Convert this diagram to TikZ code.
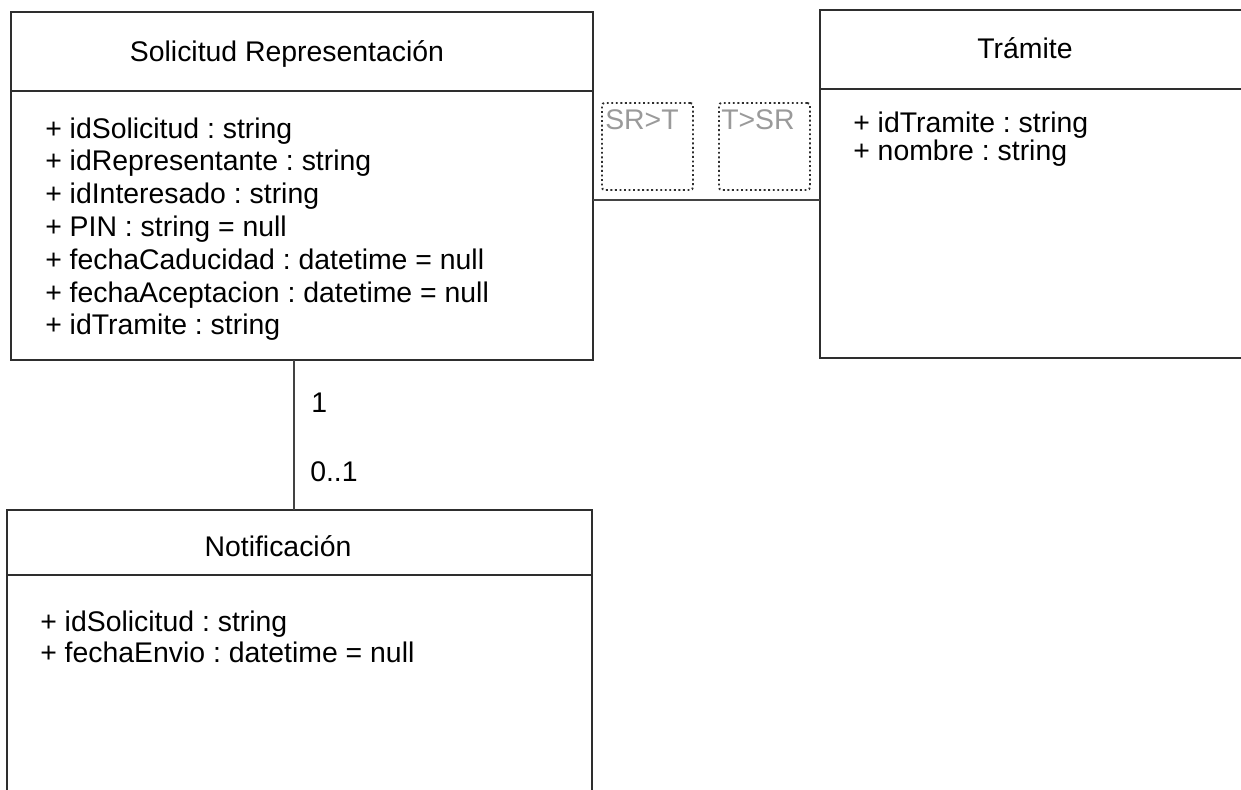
\documentclass[tikz,border=0pt]{standalone}
\usepackage{fontspec}
\setmainfont{Liberation Sans}
\usetikzlibrary{positioning}
\frenchspacing

\definecolor{boxline}{HTML}{2E2E2E}
\definecolor{rolegray}{HTML}{9A9A9A}

\tikzset{
    klass/.style={draw=boxline, line width=1.3pt, anchor=north west, inner sep=0pt, outer sep=0pt},
    divider/.style={draw=boxline, line width=1.3pt},
    klassname/.style={anchor=base, inner sep=0pt, font=\fontsize{21.3}{25}\selectfont},
    attr/.style={anchor=base west, inner sep=0pt, font=\fontsize{21.3}{25}\selectfont},
    assoc/.style={draw=boxline!90, line width=1pt},
    mult/.style={anchor=base west, inner sep=0pt, font=\fontsize{21.3}{25}\selectfont},
    rolebox/.style={draw=boxline, dotted, line width=1.4pt, rounded corners=2pt, anchor=north west,
        minimum width=68.25pt, minimum height=65.25pt, inner sep=0pt},
    rolename/.style={anchor=base west, inner sep=0pt, text=rolegray, font=\fontsize{21.3}{25}\selectfont}
}

\begin{document}
\begin{tikzpicture}[x=0.75pt, y=-0.75pt]

            \clip (0,0) rectangle (1241,789);
            \fill[white] (0,0) rectangle (1241,789);

            % Solicitud Representacion
            \node[klass, minimum width=436.5pt, minimum height=261pt] (sr) at (11,12) {};
            \draw[divider] (sr.west |- 0,91) -- (sr.east |- 0,91);
            \node[klassname] (srname) at (287,61) {Solicitud Representación};
            \foreach \t [count=\i from 0] in {+ idSolicitud : string, + idRepresentante : string,
                + idInteresado : string, + PIN : string = null, + fechaCaducidad : datetime = null,
                + fechaAceptacion : datetime = null, + idTramite : string}
            {
                \node[attr] (sra\i) at (45, 138 + 32.8*\i) {\t};
            }

            % Tramite
            \node[klass, minimum width=330pt, minimum height=261pt] (tr) at (820,10) {};
            \draw[divider] (tr.west |- 0,89) -- (tr.east |- 0,89);
            \node[klassname] (trname) at (1025,58) {Trámite};
            \node[attr] (tra0) at (853,132) {+ idTramite : string};
            \node[attr] (tra1) at (853,160) {+ nombre : string};

            % Notificacion
            \node[klass, minimum width=438.75pt, minimum height=217.5pt] (nt) at (7,510) {};
            \draw[divider] (nt.west |- 0,575) -- (nt.east |- 0,575);
            \node[klassname] (ntname) at (278,556) {Notificación};
            \node[attr] (nta0) at (40,631) {+ idSolicitud : string};
            \node[attr] (nta1) at (40,662) {+ fechaEnvio : datetime = null};

            % asociaciones
            \coordinate (srlink) at (593,200);
            \draw[assoc] (srlink) -- (srlink -| tr.west);
            \coordinate (ntlink) at (294,360);
            \draw[assoc] (ntlink) -- (ntlink |- nt.north);

            \node[rolebox] (srt) at (601,102) {};
            \node[rolename] (srtname) at (605,129) {SR>T};
            \node[rolebox] (tsr) at (718,102) {};
            \node[rolename] (tsrname) at (721,129) {T>SR};

            \node[mult] (m1) at (311,412) {1};
            \node[mult] (m01) at (310,481) {0..1};
        \end{tikzpicture}
\end{document}
